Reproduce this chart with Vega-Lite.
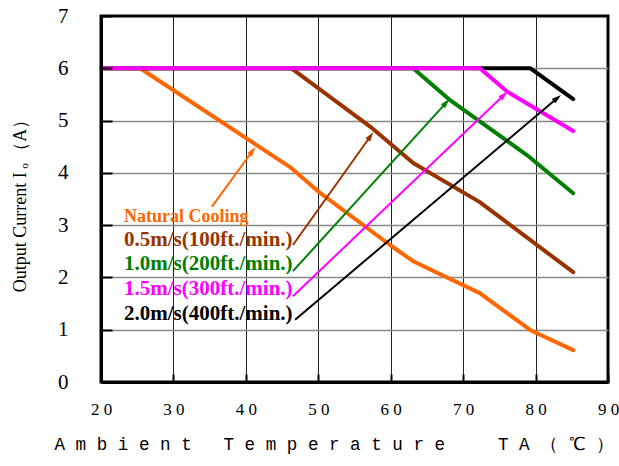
{
  "$schema": "https://vega.github.io/schema/vega-lite/v6.json",
  "autosize": "none",
  "width": 507,
  "height": 366,
  "padding": {"left": 101, "top": 16, "right": 11, "bottom": 84},
  "background": "white",
  "config": {"view": {"stroke": "#000", "strokeWidth": 3}},
  "datasets": {
    "curves": [
      {"s": "k", "x": 20, "y": 6}, {"s": "k", "x": 79.3, "y": 6}, {"s": "k", "x": 85.2, "y": 5.41},
      {"s": "nc", "x": 20, "y": 6}, {"s": "nc", "x": 25.4, "y": 6}, {"s": "nc", "x": 46.1, "y": 4.11}, {"s": "nc", "x": 50.2, "y": 3.62}, {"s": "nc", "x": 59.9, "y": 2.62}, {"s": "nc", "x": 63.1, "y": 2.31}, {"s": "nc", "x": 72.3, "y": 1.7}, {"s": "nc", "x": 79.3, "y": 0.99}, {"s": "nc", "x": 85.2, "y": 0.61},
      {"s": "b", "x": 20, "y": 6}, {"s": "b", "x": 46.3, "y": 6}, {"s": "b", "x": 57.2, "y": 4.88}, {"s": "b", "x": 63.1, "y": 4.19}, {"s": "b", "x": 72.3, "y": 3.44}, {"s": "b", "x": 85.2, "y": 2.1},
      {"s": "g", "x": 20, "y": 6}, {"s": "g", "x": 63.1, "y": 6}, {"s": "g", "x": 68.2, "y": 5.39}, {"s": "g", "x": 78.8, "y": 4.34}, {"s": "g", "x": 85.2, "y": 3.61},
      {"s": "m", "x": 20, "y": 6}, {"s": "m", "x": 72.3, "y": 6}, {"s": "m", "x": 76.1, "y": 5.55}, {"s": "m", "x": 85.2, "y": 4.8}
    ],
    "arrows": [
      {"s": "nc", "x": 35.3, "y": 3.35, "hx": 40.89, "hy": 4.413, "dir": 36.1},
      {"s": "b", "x": 46.5, "y": 2.62, "hx": 57.2, "hy": 4.7, "dir": 35.5},
      {"s": "g", "x": 46.5, "y": 2.12, "hx": 67.64, "hy": 5.339, "dir": 42.3},
      {"s": "m", "x": 46.5, "y": 1.64, "hx": 75.6, "hy": 5.484, "dir": 46.3},
      {"s": "k", "x": 46.8, "y": 1.19, "hx": 82.97, "hy": 5.428, "dir": 49.8}
    ],
    "labels": [
      {"s": "nc", "t": "Natural Cooling", "x": 23.18, "y": 3.06},
      {"s": "b", "t": "0.5m/s(100ft./min.)", "x": 23.18, "y": 2.6},
      {"s": "g", "t": "1.0m/s(200ft./min.)", "x": 23.18, "y": 2.14},
      {"s": "m", "t": "1.5m/s(300ft./min.)", "x": 23.18, "y": 1.66},
      {"s": "k", "t": "2.0m/s(400ft./min.)", "x": 23.18, "y": 1.19}
    ]
  },
  "resolve": {"axis": {"x": "independent", "y": "independent"}},
  "layer": [
    {
      "mark": {"type": "rect", "fill": "white", "stroke": null},
      "encoding": {
        "x": {"datum": 20.2, "type": "quantitative", "scale": {"domain": [20, 90], "nice": false, "zero": false},
          "axis": {"orient": "bottom", "values": [30, 40, 50, 60, 70, 80], "grid": true, "gridColor": "#222", "gridWidth": 1, "gridOpacity": 1, "domain": false, "ticks": false, "labels": false, "title": null, "zindex": 0}},
        "x2": {"datum": 50.4},
        "y": {"datum": 0.04, "type": "quantitative", "scale": {"domain": [0, 7], "nice": false, "zero": false},
          "axis": {"orient": "left", "values": [1, 2, 3, 4, 5, 6], "grid": true, "gridColor": "#888", "gridWidth": 1.5, "gridOpacity": 1, "domain": false, "ticks": false, "labels": false, "title": null, "zindex": 0}},
        "y2": {"datum": 3.62}
      }
    },
    {
      "data": {"name": "curves"},
      "transform": [{"filter": "datum.s == 'k'"}],
      "mark": {"type": "line", "strokeWidth": 4, "strokeCap": "round", "strokeJoin": "round"},
      "encoding": {
        "x": {"field": "x", "type": "quantitative",
          "axis": {"orient": "bottom", "values": [20, 30, 40, 50, 60, 70, 80, 90], "grid": false, "domain": true, "domainColor": "#000", "domainWidth": 3, "ticks": true, "tickColor": "#000", "tickWidth": 2, "tickSize": -8,
            "labelExpr": "floor(datum.value/10) + ' ' + (datum.value % 10)", "labelFont": "Liberation Serif", "labelFontSize": 17, "labelColor": "#000", "labelPadding": 27, "labelFlush": false, "labelOverlap": false,
            "title": "A m b i e n t\u00a0\u00a0\u00a0T e m p e r a t u r e\u00a0\u00a0\u00a0\u00a0\u00a0T A （ ℃ ）", "titleFont": "Liberation Mono", "titleFontSize": 17.6, "titleFontWeight": "normal", "titleColor": "#000", "titleAlign": "left", "titleX": -47, "titleY": 67, "titleBaseline": "alphabetic", "zindex": 1}},
        "y": {"field": "y", "type": "quantitative",
          "axis": {"orient": "left", "values": [0, 1, 2, 3, 4, 5, 6, 7], "grid": false, "domain": true, "domainColor": "#000", "domainWidth": 3, "ticks": true, "tickColor": "#000", "tickWidth": 2, "tickSize": -11,
            "labelFont": "Liberation Serif", "labelFontSize": 21, "labelColor": "#000", "labelPadding": 44, "labelFlush": false, "labelOverlap": false,
            "title": "Output Current I\u2009ₒ\u2009（A）", "titleFont": "Liberation Serif", "titleFontSize": 18, "titleFontWeight": "normal", "titleColor": "#000", "titleAngle": -90, "titleAlign": "center", "titleBaseline": "alphabetic", "titleX": -76, "titleY": 185, "zindex": 1}},
        "color": {"field": "s", "type": "nominal", "scale": {"domain": ["nc", "b", "g", "m", "k"], "range": ["#FF6600", "#993300", "#008000", "#FF00FF", "#000000"]}, "legend": null}
      }
    },
    {
      "data": {"name": "curves"},
      "transform": [{"filter": "datum.s == 'nc'"}],
      "mark": {"type": "line", "strokeWidth": 4, "strokeCap": "round", "strokeJoin": "round"},
      "encoding": {
        "x": {"field": "x", "type": "quantitative", "axis": null},
        "y": {"field": "y", "type": "quantitative", "axis": null},
        "color": {"field": "s", "type": "nominal", "legend": null}
      }
    },
    {
      "data": {"name": "curves"},
      "transform": [{"filter": "datum.s == 'b'"}],
      "mark": {"type": "line", "strokeWidth": 4, "strokeCap": "round", "strokeJoin": "round"},
      "encoding": {
        "x": {"field": "x", "type": "quantitative", "axis": null},
        "y": {"field": "y", "type": "quantitative", "axis": null},
        "color": {"field": "s", "type": "nominal", "legend": null}
      }
    },
    {
      "data": {"name": "curves"},
      "transform": [{"filter": "datum.s == 'g'"}],
      "mark": {"type": "line", "strokeWidth": 4, "strokeCap": "round", "strokeJoin": "round"},
      "encoding": {
        "x": {"field": "x", "type": "quantitative", "axis": null},
        "y": {"field": "y", "type": "quantitative", "axis": null},
        "color": {"field": "s", "type": "nominal", "legend": null}
      }
    },
    {
      "data": {"name": "curves"},
      "transform": [{"filter": "datum.s == 'm'"}],
      "mark": {"type": "line", "strokeWidth": 4, "strokeCap": "round", "strokeJoin": "round"},
      "encoding": {
        "x": {"field": "x", "type": "quantitative", "axis": null},
        "y": {"field": "y", "type": "quantitative", "axis": null},
        "color": {"field": "s", "type": "nominal", "legend": null}
      }
    },
    {
      "data": {"name": "arrows"},
      "mark": {"type": "rule", "strokeWidth": 2},
      "encoding": {
        "x": {"field": "x", "type": "quantitative", "axis": null},
        "y": {"field": "y", "type": "quantitative", "axis": null},
        "x2": {"field": "hx"},
        "y2": {"field": "hy"},
        "color": {"field": "s", "type": "nominal", "legend": null}
      }
    },
    {
      "data": {"name": "arrows"},
      "mark": {"type": "point", "shape": "M0,-0.9L0.5,0.8L-0.5,0.8Z", "filled": true, "opacity": 1, "size": 130},
      "encoding": {
        "x": {"field": "hx", "type": "quantitative", "axis": null},
        "y": {"field": "hy", "type": "quantitative", "axis": null},
        "angle": {"field": "dir", "type": "quantitative", "scale": null},
        "color": {"field": "s", "type": "nominal", "legend": null}
      }
    },
    {
      "data": {"name": "labels"},
      "transform": [{"filter": "datum.s == 'nc'"}],
      "mark": {"type": "text", "align": "left", "baseline": "alphabetic", "font": "Liberation Serif", "fontSize": 18, "fontWeight": "bold"},
      "encoding": {
        "x": {"field": "x", "type": "quantitative", "axis": null},
        "y": {"field": "y", "type": "quantitative", "axis": null},
        "text": {"field": "t"},
        "color": {"field": "s", "type": "nominal", "legend": null}
      }
    },
    {
      "data": {"name": "labels"},
      "transform": [{"filter": "datum.s != 'nc'"}],
      "mark": {"type": "text", "align": "left", "baseline": "alphabetic", "font": "Liberation Serif", "fontSize": 21, "fontWeight": "bold"},
      "encoding": {
        "x": {"field": "x", "type": "quantitative", "axis": null},
        "y": {"field": "y", "type": "quantitative", "axis": null},
        "text": {"field": "t"},
        "color": {"field": "s", "type": "nominal", "legend": null}
      }
    }
  ]
}
